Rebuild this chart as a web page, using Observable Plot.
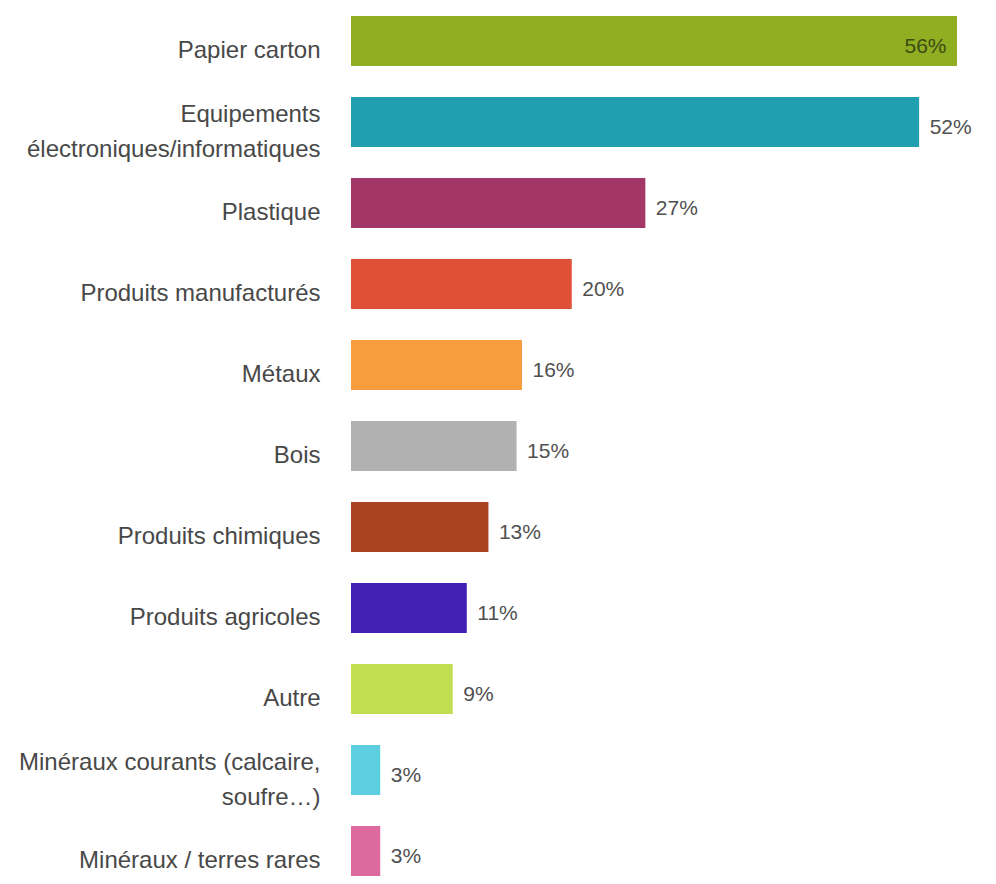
<!DOCTYPE html>
<html>
<head>
<meta charset="utf-8">
<script src="https://cdn.jsdelivr.net/npm/d3@7"></script>
<script src="https://cdn.jsdelivr.net/npm/@observablehq/plot@0.6"></script>
<style>
  html, body { margin: 0; padding: 0; background: #fff; }
  #chart svg { display: block; }
</style>
</head>
<body>
<div id="chart"></div>
<script>
const categories = [
  "Papier carton",
  "Equipements\nélectroniques/informatiques",
  "Plastique",
  "Produits manufacturés",
  "Métaux",
  "Bois",
  "Produits chimiques",
  "Produits agricoles",
  "Autre",
  "Minéraux courants (calcaire,\nsoufre…)",
  "Minéraux / terres rares"
];
const values = [56, 52.5, 27.2, 20.4, 15.8, 15.3, 12.7, 10.7, 9.4, 2.7, 2.7];
const valueLabels = ["56%", "52%", "27%", "20%", "16%", "15%", "13%", "11%", "9%", "3%", "3%"];
const colors = ["#8fae22", "#219eb0", "#a33768", "#e05036", "#f79d3d", "#b1b1b1", "#ab4321", "#4320b3", "#c2df52", "#5dcfe1", "#dc6a9e"];

const data = categories.map((c, i) => ({cat: c, value: values[i], label: valueLabels[i], color: colors[i]}));
const font = "'Liberation Sans', Arial, sans-serif";

const chart = Plot.plot({
  width: 996,
  height: 884,
  style: {fontFamily: font, background: "#fff"},
  x: {domain: [0, 56], range: [351, 957], axis: null},
  y: {domain: categories, range: [15, 876], paddingInner: 0.383, paddingOuter: 0, axis: null},
  marks: [
    Plot.barX(data, {x: "value", y: "cat", fill: "color"}),
    // category labels (single line)
    Plot.text(data.filter(d => !d.cat.includes("\n")), {
      x: 0, y: "cat", text: "cat", textAnchor: "end", dx: -31, dy: 9,
      fontSize: 24, fill: "#484848"
    }),
    // two-line labels
    Plot.text(data.filter(d => d.cat.includes("\n")), {
      x: 0, y: "cat", text: "cat", textAnchor: "end", dx: -31, dy: 6,
      fontSize: 24, lineHeight: 1.46, fill: "#484848"
    }),
    // value labels outside
    Plot.text(data.filter(d => d.value < 54), {
      x: "value", y: "cat", text: "label", textAnchor: "start", dx: 10, dy: 5,
      fontSize: 21, fill: "#505050"
    }),
    // value label inside the longest bar
    Plot.text(data.filter(d => d.value >= 54), {
      x: "value", y: "cat", text: "label", textAnchor: "end", dx: -11, dy: 5,
      fontSize: 21, fill: "#3d4b12"
    })
  ]
});
document.getElementById("chart").appendChild(chart);
</script>
</body>
</html>
